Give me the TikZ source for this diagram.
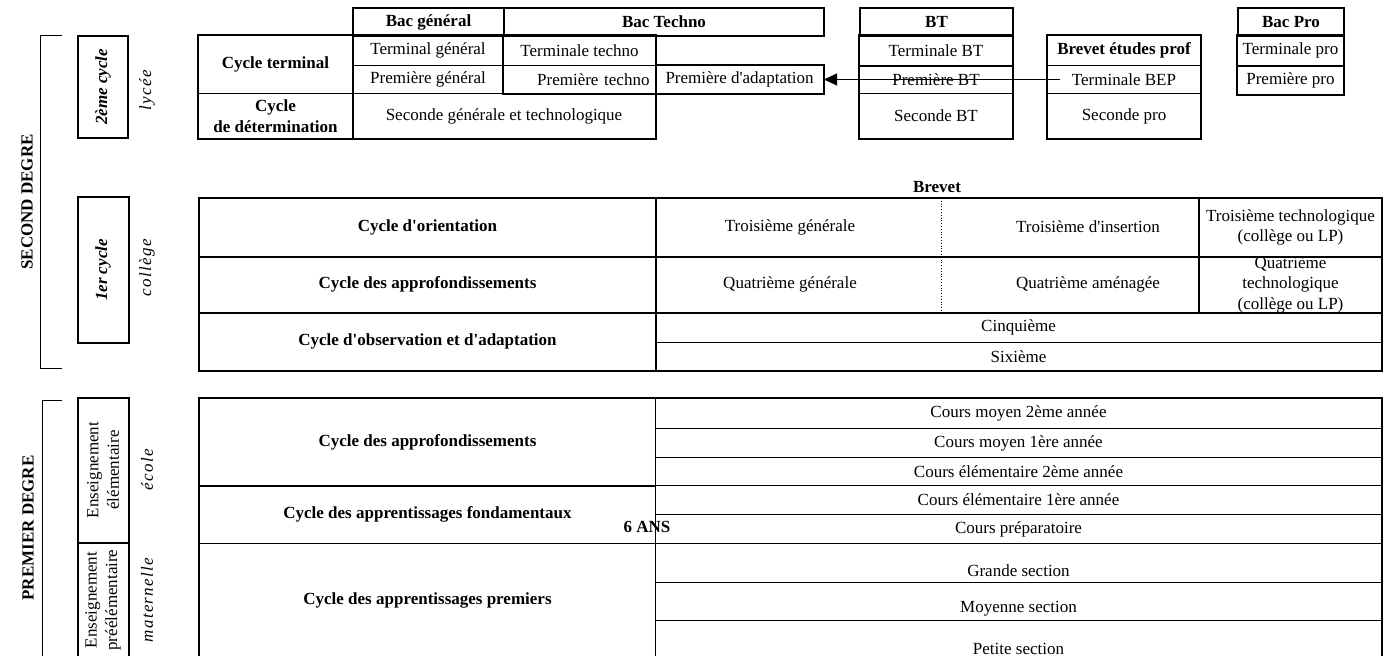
\documentclass[tikz,border=0pt]{standalone}
\usepackage{fontspec}
\setmainfont{Liberation Serif}[Ligatures=TeXOff]
\usetikzlibrary{arrows.meta}
\newcommand{\cellfont}{\fontsize{17}{20.5}\selectfont}

\begin{document}
\begin{tikzpicture}[
    x=1pt, y=-1pt,
    cell/.style 2 args={draw, line width=1pt, anchor=north west, minimum width=#1pt, minimum height=#2pt, inner sep=0pt, align=center, font=\cellfont},
    head/.style 2 args={cell={#1}{#2}, line width=2pt, font=\cellfont\bfseries},
    label_cell/.style 2 args={cell={#1}{#2}, font=\cellfont\bfseries},
    cycle_box/.style 2 args={draw, line width=2pt, rotate=90, minimum width=#1pt, minimum height=#2pt, inner sep=0pt, align=center, font=\cellfont},
    side/.style={rotate=90, font=\cellfont\itshape\addfontfeature{LetterSpace=8}},
    degree/.style={rotate=90, font=\cellfont\bfseries},
    txt/.style={font=\cellfont, align=center},
    frame/.style={draw, line width=2pt},
    bracket/.style={draw, line width=1pt},
    arrow/.style={draw, line width=1pt, -{Triangle[length=13pt, width=12pt]}}
]
    \useasboundingbox (0,0) rectangle (1385,656);
    \clip (0,0) rectangle (1385,656);

    % Left labels
    \node[degree] (second_degre) at (27,202) {SECOND DEGRE};
    \node[degree] (premier_degre) at (28,528) {PREMIER DEGRE};
    \draw[bracket] (62,35) -- (40,35) -- (40,368) -- (62,368);
    \draw[bracket] (62,400) -- (42,400) -- (42,660);

    \node[cycle_box={102}{50}] (cycle_2) at (103,87) {\bfseries\itshape 2ème cycle};
    \node[side] (lycee) at (147,90) {lycée};
    \node[cycle_box={146}{51}] (cycle_1) at (103,270) {\bfseries\itshape 1er cycle};
    \node[side] (college) at (147,268) {collège};
    \node[cycle_box={145}{51}] (elementaire) at (103,470) {Enseignement\\élémentaire};
    \node[side] (ecole) at (147,470) {école};
    \node[cycle_box={114}{51}] (preelementaire) at (103,600) {Enseignement\\préélémentaire};
    \node[side] (maternelle) at (147,600) {maternelle};

    % Lycee
    \node[head={151}{28}] (bac_general) at (352,7) {Bac général};
    \node[head={320}{28}] (bac_techno) at (503,7) {Bac Techno};
    \node[head={153}{28}] (bt) at (859,7) {BT};
    \node[head={106}{28}] (bac_pro) at (1237,7) {Bac Pro};

    \node[label_cell={154}{58}] (cycle_terminal) at (198,35) {Cycle terminal};
    \node[cell={151}{30}] (terminal_general) at (352,35) {Terminal général};
    \node[cell={151}{28}] (premiere_general) at (352,65) {Première général};
    \node[label_cell={154}{45}] (cycle_determination) at (198,93) {Cycle\\de détermination};
    \node[cell={303}{45}] (seconde_gt) at (352,93) {Seconde générale et technologique};
    \node[cell={152}{30}] (terminale_techno) at (503,35) {Terminale techno};
    \node[cell={152}{28}, text width=140pt, align=right] (premiere_techno) at (503,65) {Première techno};
    \node[cell={168}{28}] (premiere_adaptation) at (655,65) {Première d'adaptation};

    \node[cell={153}{30}] (terminale_bt) at (859,35) {Terminale BT};
    \node[cell={153}{28}] (premiere_bt) at (859,65) {Première BT};
    \node[cell={153}{45}] (seconde_bt) at (859,93) {Seconde BT};
    \node[label_cell={153}{30}] (bep) at (1047,35) {Brevet études prof};
    \node[cell={153}{28}] (terminale_bep) at (1047,65) {Terminale BEP};
    \node[cell={153}{45}] (seconde_pro) at (1047,93) {Seconde pro};
    \node[cell={106}{30}] (terminale_pro) at (1237,35) {Terminale pro};
    \node[cell={106}{29}] (premiere_pro) at (1237,65) {Première pro};

    \draw[frame] (cycle_terminal.north west) rectangle (seconde_gt.south east);
    \draw[frame] (cycle_terminal.north east) -- (cycle_determination.south east);
    \draw[frame] (terminale_techno.north west) rectangle (premiere_techno.south east);
    \draw[frame] (premiere_adaptation.north west) -- (premiere_adaptation.north east) -- (premiere_adaptation.south east) -- (premiere_adaptation.south west);
    \draw[frame] (terminale_bt.north west) rectangle (seconde_bt.south east);
    \draw[frame] (terminale_bt.south west) -- (terminale_bt.south east);
    \draw[frame] (bep.north west) rectangle (seconde_pro.south east);
    \draw[frame] (terminale_pro.north west) rectangle (premiere_pro.south east);
    \draw[frame] (terminale_pro.south west) -- (terminale_pro.south east);

    % College
    \node[font=\cellfont\bfseries] (brevet) at (937,187) {Brevet};
    \node[label_cell={456}{58}] (cycle_orientation) at (199,198) {Cycle d'orientation};
    \node[label_cell={456}{56}] (cycle_approf_college) at (199,256) {Cycle des approfondissements};
    \node[label_cell={456}{58}] (cycle_observation) at (199,312) {Cycle d'observation et d'adaptation};
    \node[txt] (troisieme_gen) at (790,227) {Troisième générale};
    \node[txt] (troisieme_ins) at (1088,227) {Troisième d'insertion};
    \node[cell={182}{58}] (troisieme_tech) at (1199,198) {Troisième technologique\\(collège ou LP)};
    \node[txt] (quatrieme_gen) at (790,284) {Quatrième générale};
    \node[txt] (quatrieme_ame) at (1088,284) {Quatrième aménagée};
    \node[cell={182}{56}] (quatrieme_tech) at (1199,256) {};
    \begin{scope}
        \clip (quatrieme_tech.north west) rectangle (quatrieme_tech.south east);
        \node[txt] at (quatrieme_tech.center) {Quatrième\\technologique\\(collège ou LP)};
    \end{scope}
    \node[cell={726}{30}] (cinquieme) at (655,312) {Cinquième};
    \node[cell={726}{28}] (sixieme) at (655,342) {Sixième};

    \draw[frame] (cycle_orientation.north west) rectangle (sixieme.south east);
    \draw[frame] (cycle_orientation.south west) -- (troisieme_tech.south east);
    \draw[frame] (cycle_approf_college.south west) -- (quatrieme_tech.south east);
    \draw[frame] (troisieme_tech.north west) -- (quatrieme_tech.south west);
    \draw[line width=1.5pt] (cycle_orientation.north east) -- (cycle_observation.south east);
    \draw[dotted, line width=0.8pt] (941,198) -- (941,312);

    % Ecole
    \node[label_cell={456}{87}] (cycle_approf_ecole) at (199,398) {Cycle des approfondissements};
    \node[label_cell={456}{58}] (cycle_fondamentaux) at (199,485) {Cycle des apprentissages fondamentaux};
    \node[label_cell={456}{114}] (cycle_premiers) at (199,543) {Cycle des apprentissages premiers};
    \node[cell={726}{30}] (cm2) at (655,398) {Cours moyen 2ème année};
    \node[cell={726}{29}] (cm1) at (655,428) {Cours moyen 1ère année};
    \node[cell={726}{28}] (ce2) at (655,457) {Cours élémentaire 2ème année};
    \node[cell={726}{29}] (ce1) at (655,485) {Cours élémentaire 1ère année};
    \node[cell={726}{29}] (cp) at (655,514) {Cours préparatoire};
    \node[cell={726}{39}] (gs) at (655,543) {};
    \node[cell={726}{38}] (ms) at (655,582) {};
    \node[cell={726}{40}] (ps) at (655,620) {};
    \node[txt] (grande_section) at ([yshift=-8pt]gs.center) {Grande section};
    \node[txt] (moyenne_section) at ([yshift=-7pt]ms.center) {Moyenne section};
    \node[txt] (petite_section) at ([yshift=-8pt]ps.center) {Petite section};
    \node[font=\cellfont\bfseries] (six_ans) at (647,527) {6 ANS};

    \draw[frame] (cycle_approf_ecole.north west) rectangle (ps.south east);
    \draw[frame] (cycle_approf_ecole.south west) -- (cycle_approf_ecole.south east);

    % Arrows
    \path[arrow] ([xshift=13pt]terminale_bep.west) -- (premiere_adaptation.east);

\end{tikzpicture}
\end{document}
